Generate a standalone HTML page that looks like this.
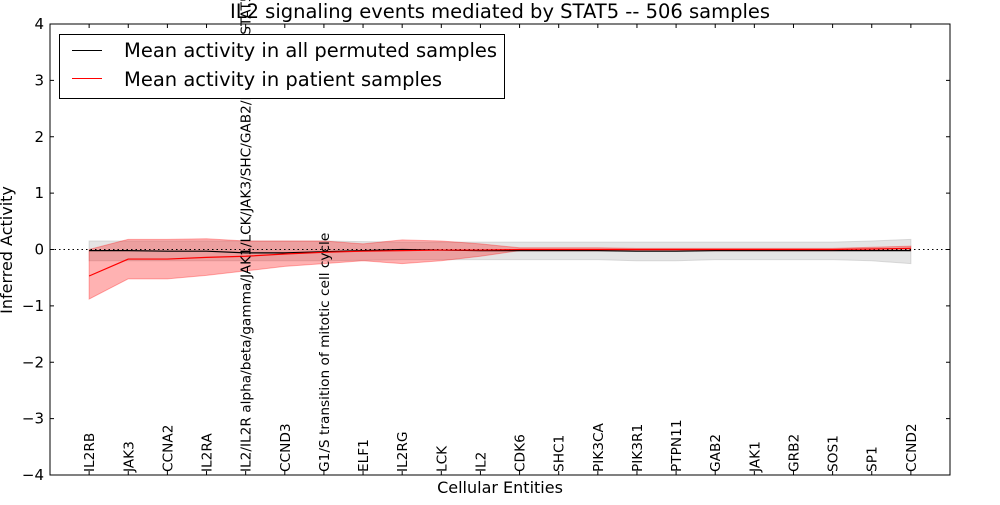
<!DOCTYPE html>
<html><head><meta charset="utf-8"><style>
body{margin:0;background:#fff}
svg text{font-family:"DejaVu Sans","Liberation Sans",sans-serif}
</style></head><body>
<svg id="c" width="1000" height="500" xmlns="http://www.w3.org/2000/svg"></svg>
<script>
const categories=["IL2RB","JAK3","CCNA2","IL2RA","IL2/IL2R alpha/beta/gamma/JAK1/LCK/JAK3/SHC/GAB2/PI3K/CBL/STAT5","CCND3","G1/S transition of mitotic cell cycle","ELF1","IL2RG","LCK","IL2","CDK6","SHC1","PIK3CA","PIK3R1","PTPN11","GAB2","JAK1","GRB2","SOS1","SP1","CCND2"];
const redMean=[-0.47,-0.17,-0.17,-0.14,-0.12,-0.08,-0.05,-0.03,-0.02,-0.01,-0.01,0,0,0,0,0,0,0,0,0,0.01,0.02];
const redHi=[0.0,0.18,0.18,0.19,0.15,0.15,0.15,0.1,0.17,0.15,0.1,0.03,0.03,0.03,0.02,0.02,0.02,0.02,0.02,0.02,0.04,0.06];
const redLo=[-0.88,-0.52,-0.52,-0.46,-0.38,-0.3,-0.25,-0.2,-0.25,-0.2,-0.12,-0.02,-0.02,-0.02,-0.02,-0.02,-0.02,-0.02,-0.02,-0.02,-0.01,-0.02];
const blackMean=[-0.02,-0.02,-0.03,-0.03,-0.06,-0.06,-0.04,-0.02,0,-0.01,-0.02,-0.02,-0.02,-0.02,-0.03,-0.03,-0.02,-0.02,-0.02,-0.02,-0.02,-0.02];
const greyHi=[0.15,0.15,0.15,0.15,0.15,0.15,0.15,0.14,0.13,0.13,0.13,0.13,0.13,0.13,0.13,0.13,0.13,0.13,0.13,0.13,0.15,0.18];
const greyLo=[-0.2,-0.2,-0.2,-0.2,-0.2,-0.2,-0.2,-0.19,-0.18,-0.18,-0.18,-0.18,-0.18,-0.18,-0.2,-0.2,-0.18,-0.18,-0.18,-0.18,-0.2,-0.25];
const yTicks=[-4,-3,-2,-1,0,1,2,3,4];
const yTickLabels=["\u22124","\u22123","\u22122","\u22121","0","1","2","3","4"];

const L=50,R=950,T=24,B=475;
const X=i=>L+(i+1)*(R-L)/23;
const Y=v=>B-(v+4)*(B-T)/8;
const svg=document.getElementById('c');
const NS='http://www.w3.org/2000/svg';
function mk(tag,attrs,parent){const e=document.createElementNS(NS,tag);for(const k in attrs)e.setAttribute(k,attrs[k]);(parent||svg).appendChild(e);return e;}
function band(hi,lo){let d='M'+hi.map((v,i)=>X(i)+','+Y(v)).join('L');for(let i=lo.length-1;i>=0;i--)d+='L'+X(i)+','+Y(lo[i]);return d+'Z';}
let e=mk('path',{d:band(greyHi,greyLo),fill:'#bbbbbb','fill-opacity':0.4,stroke:'#bbbbbb','stroke-opacity':0.5});

e=mk('path',{d:band(redHi,redLo),fill:'#ff0000','fill-opacity':0.3,stroke:'#ff0000','stroke-opacity':0.3});

e=mk('line',{x1:L,x2:R,y1:Y(0),y2:Y(0),stroke:'#000','stroke-dasharray':'1.5,3','stroke-width':1});

e=mk('polyline',{points:blackMean.map((v,i)=>X(i)+','+Y(v)).join(' '),fill:'none',stroke:'#000','stroke-width':1.2});

e=mk('polyline',{points:redMean.map((v,i)=>X(i)+','+Y(v)).join(' '),fill:'none',stroke:'#ff0000','stroke-width':1.2});

e=mk('rect',{x:L,y:T,width:R-L,height:B-T,fill:'none',stroke:'#000','stroke-width':1});

yTicks.forEach((t,i)=>{
 mk('line',{x1:L,x2:L+4,y1:Y(t),y2:Y(t),stroke:'#000'});
 mk('line',{x1:R,x2:R-4,y1:Y(t),y2:Y(t),stroke:'#000'});
 const tx=mk('text',{x:L-6,y:Y(t)+5,'text-anchor':'end','font-size':15});
 tx.textContent=yTickLabels[i];
 
 
});
categories.forEach((c,i)=>{
 mk('line',{x1:X(i),x2:X(i),y1:B,y2:B-4,stroke:'#000'});
 mk('line',{x1:X(i),x2:X(i),y1:T,y2:T+4,stroke:'#000'});
 const tx=mk('text',{x:0,y:0,'font-size':13.7,transform:`translate(${X(i)+5},472) rotate(-90)`});
 tx.textContent=c;
 
 
});
e=mk('text',{x:500,y:18,'text-anchor':'middle','font-size':19.5});e.textContent='IL2 signaling events mediated by STAT5 -- 506 samples';

e=mk('text',{x:500,y:493,'text-anchor':'middle','font-size':16});e.textContent='Cellular Entities';

e=mk('text',{x:0,y:0,'text-anchor':'middle','font-size':16,transform:'translate(12,250) rotate(-90)'});e.textContent='Inferred Activity';

const lg=mk('g',{});
mk('rect',{x:59.5,y:34.5,width:445,height:64,fill:'#fff',stroke:'#000'},lg);
mk('line',{x1:72,x2:102,y1:50.5,y2:50.5,stroke:'#000'},lg);
mk('line',{x1:72,x2:102,y1:78.5,y2:78.5,stroke:'#ff0000'},lg);
e=mk('text',{x:124,y:57,'font-size':19.5},lg);e.textContent='Mean activity in all permuted samples';

e=mk('text',{x:124,y:86,'font-size':19.5},lg);e.textContent='Mean activity in patient samples';

</script>
</body></html>
